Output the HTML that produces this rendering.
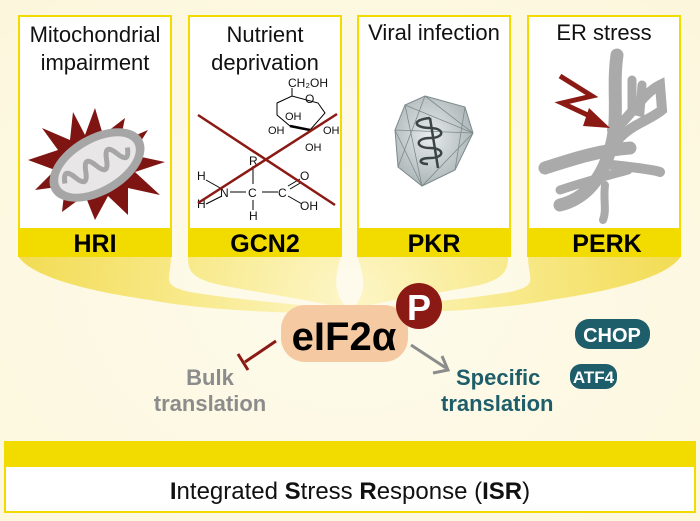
<!DOCTYPE html>
<html><head><meta charset="utf-8"><style>
body{margin:0;width:700px;height:521px;overflow:hidden;background:#fff}
svg{display:block}
text{font-family:"Liberation Sans",sans-serif}
</style></head><body>
<svg width="700" height="521" viewBox="0 0 700 521">
<defs>
<radialGradient id="bg" cx="50%" cy="55%" r="70%">
<stop offset="0" stop-color="#fefcef"/><stop offset="1" stop-color="#fbf4cf"/>
</radialGradient>
<radialGradient id="fun" cx="350" cy="300" r="330" gradientUnits="userSpaceOnUse">
<stop offset="0" stop-color="#fdf6c8"/><stop offset="0.5" stop-color="#f8e98a"/><stop offset="1" stop-color="#f2dc55"/>
</radialGradient>
<radialGradient id="vir" cx="45%" cy="45%" r="60%">
<stop offset="0" stop-color="#e8eced"/><stop offset="1" stop-color="#a8b2b4"/>
</radialGradient>
</defs>
<rect width="700" height="521" fill="url(#bg)"/>
<rect x="0" y="0" width="700" height="521" fill="#fdfaea" opacity="0.5"/>
<path d="M18,256 L171,256 C171,280 160,285 190,292 C250,302 320,305 350,312 C300,315 200,310 150,300 C80,290 30,275 18,256 Z" fill="url(#fun)"/>
<path d="M188,256 L341,256 C330,290 340,300 350,312 C330,302 270,295 220,285 C190,278 188,270 188,256 Z" fill="url(#fun)"/>
<path d="M357,256 L508,256 C508,270 505,278 480,285 C430,295 370,302 350,312 C360,300 370,290 357,256 Z" fill="url(#fun)"/>
<path d="M528,256 L681,256 C670,275 620,290 550,300 C500,310 400,315 350,312 C380,305 450,302 510,292 C540,285 528,280 528,256 Z" fill="url(#fun)"/>
<g stroke="#f2dc00" stroke-width="2">
<rect x="19" y="16" width="152" height="240" fill="#fff"/>
<rect x="189" y="16" width="152" height="240" fill="#fff"/>
<rect x="358" y="16" width="152" height="240" fill="#fff"/>
<rect x="528" y="16" width="152" height="240" fill="#fff"/>
</g>
<g fill="#f2dc00">
<rect x="18" y="228" width="154" height="29"/><rect x="188" y="228" width="154" height="29"/>
<rect x="357" y="228" width="154" height="29"/><rect x="527" y="228" width="154" height="29"/>
</g>
<g font-size="22" text-anchor="middle" fill="#111">
<text x="95" y="42">Mitochondrial</text><text x="95" y="70">impairment</text>
<text x="265" y="42">Nutrient</text><text x="265" y="70">deprivation</text>
<text x="434" y="40">Viral infection</text>
<text x="604" y="40">ER stress</text>
</g>
<g font-size="25" font-weight="bold" text-anchor="middle" fill="#000">
<text x="95" y="252">HRI</text><text x="265" y="252">GCN2</text><text x="434" y="252">PKR</text><text x="607" y="252">PERK</text>
</g>
<polygon points="95,108 103,135 125,118 120,142 148,130 132,155 165,162 135,172 160,195 128,188 128,215 108,196 95,220 85,195 62,212 65,186 35,190 55,170 28,160 58,150 42,128 70,140 73,112 85,135" fill="#7e1512"/>
<g transform="rotate(-30 97 165)">
<ellipse cx="97" cy="165" rx="52" ry="30" fill="#a6a6a6"/>
<ellipse cx="97" cy="165" rx="43" ry="22" fill="#e8e6e6"/>
<path d="M60,165 q6,-16 12,0 q6,16 12,0 q6,-16 12,0 q6,16 12,0 q6,-16 12,0 q6,16 12,0" stroke="#a6a6a6" stroke-width="5" fill="none"/>
</g>
<g stroke="#000" stroke-width="1" fill="none">
<path d="M277,103 L292,96 L318,103 L325,113 L310,130 L290,126 L277,115 Z"/>
<path d="M290,126 L310,130" stroke-width="2.5"/>
<line x1="292" y1="96" x2="292" y2="88"/>
<line x1="253" y1="166" x2="253" y2="184"/><line x1="253" y1="200" x2="253" y2="210"/>
<line x1="230" y1="192" x2="246" y2="192"/><line x1="262" y1="192" x2="278" y2="192"/>
<line x1="206" y1="180" x2="222" y2="189"/><line x1="206" y1="204" x2="222" y2="196"/>
<line x1="288" y1="186" x2="300" y2="179"/><line x1="290" y1="189" x2="302" y2="182"/><line x1="288" y1="196" x2="302" y2="204"/>
</g>
<g font-size="12" fill="#111">
<text x="288" y="87">CH₂OH</text><text x="305" y="103">O</text>
<text x="285" y="120" font-size="11">OH</text><text x="268" y="134" font-size="11">OH</text>
<text x="323" y="134" font-size="11">OH</text><text x="305" y="151" font-size="11">OH</text>
<text x="249" y="165">R</text><text x="248" y="197">C</text><text x="278" y="197">C</text>
<text x="220" y="197">N</text><text x="197" y="180">H</text><text x="197" y="208">H</text>
<text x="249" y="220">H</text><text x="300" y="180">O</text><text x="300" y="210">OH</text>
</g>
<g stroke="#8b1a14" stroke-width="2.5">
<line x1="198" y1="115" x2="335" y2="205"/><line x1="198" y1="203" x2="337" y2="114"/>
</g>
<polygon points="425,96 465,107 473,133 455,170 422,186 398,167 395,130 405,105" fill="url(#vir)" stroke="#7d8a8c" stroke-width="1"/>
<g stroke="#7d8a8c" stroke-width="0.8" fill="none">
<path d="M405,105 L473,133 L422,186 Z M425,96 L473,133 M425,96 L398,167 M465,107 L455,170 M395,130 L473,133 M395,130 L422,186"/>
</g>
<path d="M430,118 c-20,2 -15,10 0,10 c15,0 15,10 0,10 c-15,0 -15,10 0,10 c15,0 15,10 0,10 c-12,0 -12,6 -2,6 M430,118 L438,168" stroke="#3d4445" stroke-width="2.5" fill="none"/>
<g stroke="#aaaaaa" stroke-linecap="round" fill="none">
<path d="M617,55 C612,90 620,120 610,150 C600,185 580,200 560,205" stroke-width="13"/>
<path d="M545,168 C570,160 600,150 630,148" stroke-width="13"/>
<path d="M560,190 C590,180 610,175 628,170" stroke-width="9"/>
<path d="M632,80 L632,110 L640,112 L642,85" stroke-width="9"/>
<path d="M612,130 C630,120 640,95 660,85 L662,110 C650,120 630,125 618,140" stroke-width="10"/>
<path d="M605,185 C603,200 607,210 603,220" stroke-width="8"/>
<path d="M612,165 C640,168 655,170 660,172" stroke-width="10"/>
</g>
<polyline points="560,76 592,96 562,103 594,118" stroke="#8b1a14" stroke-width="5" fill="none" stroke-linejoin="miter"/>
<polygon points="589,108 610,128 583,126" fill="#8b1a14"/>
<rect x="5" y="442" width="690" height="70" fill="#fff" stroke="#f2dc00" stroke-width="2"/>
<rect x="5" y="442" width="690" height="25" fill="#f2dc00"/>
<text x="350" y="499" font-size="24" text-anchor="middle" fill="#111"><tspan font-weight="bold">I</tspan>ntegrated <tspan font-weight="bold">S</tspan>tress <tspan font-weight="bold">R</tspan>esponse (<tspan font-weight="bold">ISR</tspan>)</text>
<rect x="281" y="305" width="127" height="57" rx="24" fill="#f5c9a2"/>
<text x="344" y="350" font-size="40" font-weight="bold" text-anchor="middle" fill="#000">eIF2α</text>
<circle cx="419" cy="306" r="23" fill="#8b1a14"/>
<text x="419" y="320" font-size="36" font-weight="bold" text-anchor="middle" fill="#fff">P</text>
<line x1="276" y1="341" x2="245" y2="362" stroke="#8b1a14" stroke-width="3"/>
<line x1="238" y1="354" x2="248" y2="370" stroke="#8b1a14" stroke-width="3"/>
<line x1="411" y1="345" x2="446" y2="368" stroke="#8c8c8c" stroke-width="3"/>
<polyline points="433,373 448,370 442,356" stroke="#8c8c8c" stroke-width="3" fill="none"/>
<g font-size="22" font-weight="bold" fill="#8c8c8c" text-anchor="middle">
<text x="210" y="385">Bulk</text><text x="210" y="411">translation</text></g>
<g font-size="22" font-weight="bold" fill="#1e5d6a">
<text x="456" y="385">Specific</text><text x="441" y="411">translation</text></g>
<rect x="575" y="319" width="75" height="30" rx="14" fill="#1e5d6a"/>
<text x="612" y="342" font-size="20" font-weight="bold" fill="#fff" text-anchor="middle">CHOP</text>
<rect x="570" y="364" width="47" height="25" rx="11" fill="#1e5d6a"/>
<text x="593.5" y="383" font-size="17" font-weight="bold" fill="#fff" text-anchor="middle">ATF4</text>
</svg>
</body></html>
